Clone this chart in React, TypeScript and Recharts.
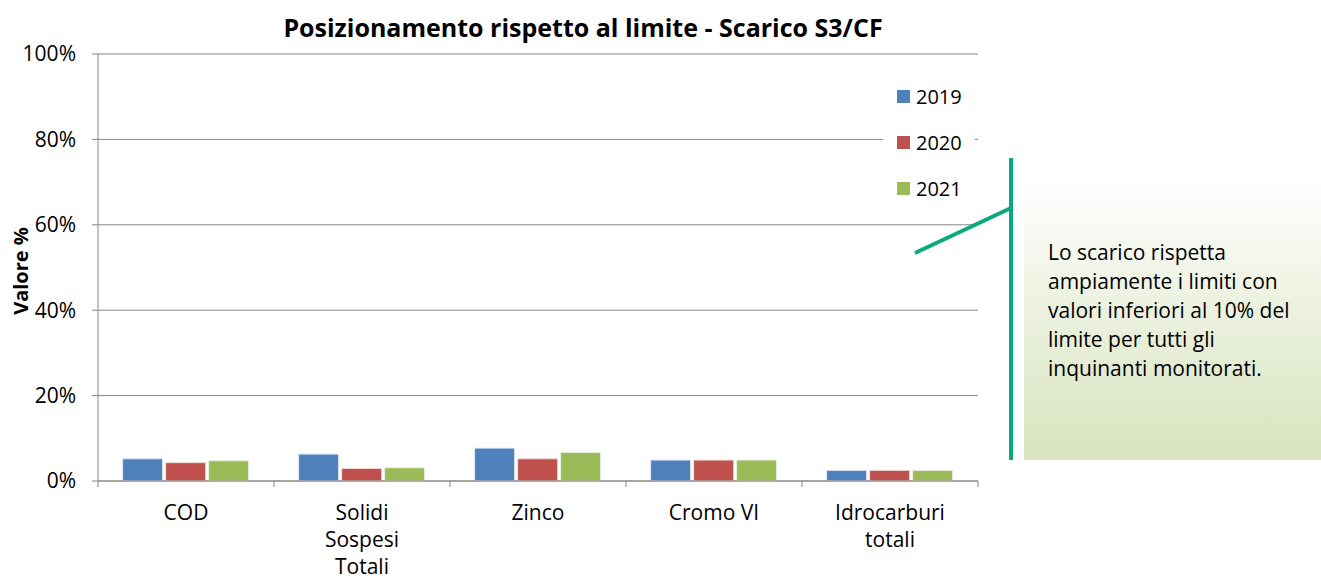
import React from "react";
import { BarChart, Bar, XAxis, YAxis, CartesianGrid, Legend, Label } from "recharts";

const categories = ["COD", "Solidi\nSospesi\nTotali", "Zinco", "Cromo VI", "Idrocarburi\ntotali"];
const v2019 = [5.2, 6.3, 7.7, 4.9, 2.5];
const v2020 = [4.3, 2.95, 5.2, 4.9, 2.5];
const v2021 = [4.75, 3.1, 6.7, 4.9, 2.5];
const yTicks = [0, 20, 40, 60, 80, 100];
const calloutLines = [
  "Lo scarico rispetta",
  "ampiamente i limiti con",
  "valori inferiori al 10% del",
  "limite per tutti gli",
  "inquinanti monitorati.",
];

const data = categories.map((c, i) => ({ name: c, y2019: v2019[i], y2020: v2020[i], y2021: v2021[i] }));

const FONT = "'Open Sans', sans-serif";
const CHART_W = 1000;
const PLOT_LEFT = 98;
const PLOT_RIGHT = 22;
const BAND = (CHART_W - PLOT_LEFT - PLOT_RIGHT) / categories.length;

function XTick(props: any) {
  const { x, y, payload, index } = props;
  const lines = String(payload.value).split("\n");
  const top = y - 8;
  return (
    <g>
      <line x1={x - BAND / 2} x2={x - BAND / 2} y1={top} y2={top + 6} stroke="#868686" />
      {index === categories.length - 1 && (
        <line x1={x + BAND / 2} x2={x + BAND / 2} y1={top} y2={top + 6} stroke="#868686" />
      )}
      {lines.map((l, i) => (
        <text key={i} x={x} y={y + 31 + i * 27} textAnchor="middle" fontSize={21} fill="#000" fontFamily={FONT}>
          {l}
        </text>
      ))}
    </g>
  );
}

function LegendBox(props: any) {
  const items = props.payload || [];
  return (
    <div style={{ background: "#fff", width: 92, height: 140, position: "relative" }}>
      {items.map((it: any, i: number) => (
        <div key={i} style={{ position: "absolute", left: 14, top: 8 + i * 46, display: "flex", alignItems: "center" }}>
          <span style={{ width: 13, height: 13, background: it.color, display: "inline-block", marginRight: 6 }} />
          <span style={{ fontSize: 20, fontFamily: FONT, color: "#000" }}>{it.value}</span>
        </div>
      ))}
    </div>
  );
}

export default function App() {
  return (
    <div style={{ position: "absolute", left: 0, top: 0, width: 1321, height: 580, background: "#fff", overflow: "hidden" }}>
      <BarChart
        width={CHART_W}
        height={580}
        data={data}
        margin={{ top: 54, right: PLOT_RIGHT, left: 0, bottom: 39 }}
        barGap={3}
        barCategoryGap="14%"
      >
        <text x={583} y={37} textAnchor="middle" fontSize={25} fontWeight={700} fontFamily={FONT} fill="#000">
          Posizionamento rispetto al limite - Scarico S3/CF
        </text>
        <CartesianGrid vertical={false} stroke="#868686" />
        <XAxis dataKey="name" height={60} stroke="#868686" tickLine={false} tick={<XTick />} interval={0} />
        <YAxis
          width={PLOT_LEFT}
          domain={[0, 100]}
          ticks={yTicks}
          tickFormatter={(v) => `${v}%`}
          stroke="#868686"
          tickSize={6}
          tickMargin={16}
          tick={{ fill: "#000", fontSize: 21, fontFamily: FONT }}
        >
          <Label
            content={() => (
              <text x={20} y={271} transform="rotate(-90 20 271)" textAnchor="middle" dominantBaseline="central" fontSize={20} fontWeight={700} fontFamily={FONT} fill="#000">
                Valore %
              </text>
            )}
          />
        </YAxis>
        <Legend
          layout="vertical"
          align="center"
          verticalAlign="middle"
          content={<LegendBox />}
          wrapperStyle={{ left: 883, top: 75, width: 92, height: 140 }}
        />
        <Bar dataKey="y2019" name="2019" fill="#4F81BD" stroke="#dfe8f3" strokeWidth={1} isAnimationActive={false} />
        <Bar dataKey="y2020" name="2020" fill="#C0504D" stroke="#f1dcdb" strokeWidth={1} isAnimationActive={false} />
        <Bar dataKey="y2021" name="2021" fill="#9BBB59" stroke="#eaf0de" strokeWidth={1} isAnimationActive={false} />
      </BarChart>
      <div
        style={{
          position: "absolute",
          left: 1024,
          top: 180,
          width: 297,
          height: 280,
          background: "linear-gradient(to bottom, #ffffff 0%, #eef3e3 40%, #d7e4bd 100%)",
        }}
      />
      <svg width={1321} height={580} style={{ position: "absolute", left: 0, top: 0, pointerEvents: "none" }}>
        <line x1={1011} y1={158} x2={1011} y2={460} stroke="#0BA97D" strokeWidth={4} />
        <line x1={915} y1={253} x2={1011} y2={208} stroke="#0BA97D" strokeWidth={4} />
        {calloutLines.map((l, i) => (
          <text key={i} x={1048} y={260 + i * 29} fontSize={21} fontFamily={FONT} fill="#000">
            {l}
          </text>
        ))}
      </svg>
    </div>
  );
}
